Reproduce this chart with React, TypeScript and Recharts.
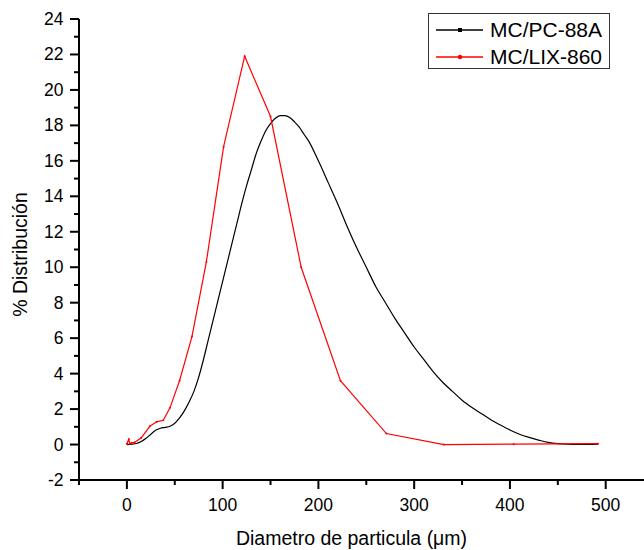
import { Line, LineChart, XAxis, YAxis, Label } from "recharts";

// MC/PC-88A (smooth curve)
const pcDiameter = [
  0, 5, 10, 15, 20, 25, 30, 35, 40, 45, 50, 55, 60, 65, 70, 75, 80, 85, 90, 95,
  100, 105, 110, 115, 120, 125, 130, 135, 140, 145, 150, 155, 160, 165, 170,
  175, 180, 185, 190, 200, 210, 220, 230, 240, 250, 260, 270, 280, 290, 300,
  310, 320, 330, 340, 350, 360, 370, 380, 390, 400, 410, 420, 430, 440, 450,
  460, 470, 480, 492,
];
const pcDistribution = [
  0, 0.02, 0.06, 0.17, 0.35, 0.58, 0.8, 0.92, 0.97, 1.03, 1.2, 1.5, 1.9, 2.4,
  3.0, 3.8, 4.8, 5.9, 7.0, 8.1, 9.2, 10.3, 11.4, 12.5, 13.6, 14.6, 15.5, 16.4,
  17.1, 17.7, 18.1, 18.4, 18.55, 18.55, 18.45, 18.2, 17.9, 17.5, 17.1, 16.0,
  14.8, 13.6, 12.3, 11.1, 10.0, 8.9, 8.0, 7.1, 6.3, 5.5, 4.8, 4.1, 3.5, 3.0,
  2.5, 2.1, 1.75, 1.4, 1.1, 0.82, 0.58, 0.4, 0.25, 0.12, 0.05, 0.02, 0.01,
  0.01, 0.02,
];

// MC/LIX-860 (polyline)
const lixDiameter = [
  0, 2, 3, 5, 8, 15, 24, 31, 38, 45, 55, 68, 83, 101, 123, 150, 182, 223, 271,
  331, 404, 492,
];
const lixDistribution = [
  0.05, 0.3, 0.05, 0.1, 0.12, 0.38, 1.03, 1.28, 1.37, 2.07, 3.6, 6.1, 10.3,
  16.8, 21.9, 18.5, 10.0, 3.6, 0.62, 0, 0.02, 0.05,
];

const xTicks = [-50, 0, 50, 100, 150, 200, 250, 300, 350, 400, 450, 500];
const yTicks = [
  -2, -1, 0, 1, 2, 3, 4, 5, 6, 7, 8, 9, 10, 11, 12, 13, 14, 15, 16, 17, 18,
  19, 20, 21, 22, 23, 24,
];

const pcData = pcDiameter.map((d, i) => ({ d, v: pcDistribution[i] }));
const lixData = lixDiameter.map((d, i) => ({ d, v: lixDistribution[i] }));

const FONT = "'Liberation Sans', Arial, sans-serif";

function XTick({ x, y, payload }: any) {
  const major = payload.value % 100 === 0;
  return (
    <g>
      <line x1={x} x2={x} y1={y} y2={y + (major ? 9 : 5)} stroke="#000" strokeWidth={2} />
      {major && (
        <text x={x} y={y + 31} textAnchor="middle" fontSize={17.5} fontFamily={FONT} fill="#000">
          {payload.value}
        </text>
      )}
    </g>
  );
}

function YTick({ x, y, payload }: any) {
  const major = payload.value % 2 === 0;
  return (
    <g>
      <line x1={x} x2={x - (major ? 9 : 5)} y1={y} y2={y} stroke="#000" strokeWidth={2} />
      {major && (
        <text x={x - 15.5} y={y + 6} textAnchor="end" fontSize={17.5} fontFamily={FONT} fill="#000">
          {payload.value}
        </text>
      )}
    </g>
  );
}

function ChartLegend() {
  const rows = [
    { name: "MC/PC-88A", color: "#000", square: true },
    { name: "MC/LIX-860", color: "#ff0000", square: false },
  ];
  return (
    <div
      style={{
        position: "absolute",
        left: 428,
        top: 13,
        width: 182,
        height: 56,
        boxSizing: "border-box",
        border: "1.5px solid #333",
        background: "#fff",
        fontFamily: FONT,
      }}
    >
      {rows.map((r, i) => (
        <div
          key={r.name}
          style={{ position: "absolute", left: 0, top: i === 0 ? 4 : 31, height: 24, width: 180 }}
        >
          <svg width={60} height={24} style={{ position: "absolute", left: 0, top: 0 }}>
            <line x1={7} x2={54} y1={12} y2={12} stroke={r.color} strokeWidth={1.3} />
            {r.square ? (
              <rect x={29} y={10} width={4} height={4} fill={r.color} />
            ) : (
              <circle cx={31} cy={12} r={2.2} fill={r.color} />
            )}
          </svg>
          <span
            style={{
              position: "absolute",
              left: 61,
              top: 0,
              lineHeight: "24px",
              fontSize: 21,
              color: "#000",
              whiteSpace: "nowrap",
            }}
          >
            {r.name}
          </span>
        </div>
      ))}
    </div>
  );
}

export default function App() {
  return (
    <div style={{ position: "absolute", left: 0, top: 0, width: 644, height: 550, background: "#fff" }}>
      <LineChart width={644} height={550} margin={{ top: 19, right: 0, bottom: 0, left: 0 }}>
        <XAxis
          type="number"
          dataKey="d"
          domain={[-50, 540]}
          ticks={xTicks}
          interval={0}
          allowDataOverflow
          height={70}
          tickSize={0}
          tickMargin={0}
          tickLine={false}
          tick={<XTick />}
          axisLine={{ stroke: "#000", strokeWidth: 2 }}
        >
          <Label
            content={({ viewBox }: any) => (
              <text
                x={viewBox.x + viewBox.width / 2 - 10}
                y={viewBox.y + 65}
                textAnchor="middle"
                fontSize={19.5}
                fontFamily={FONT}
                fill="#000"
              >
                Diametro de particula (μm)
              </text>
            )}
          />
        </XAxis>
        <YAxis
          type="number"
          domain={[-2, 24]}
          ticks={yTicks}
          interval={0}
          allowDataOverflow
          width={79}
          tickSize={0}
          tickMargin={0}
          tickLine={false}
          tick={<YTick />}
          axisLine={{ stroke: "#000", strokeWidth: 2 }}
        >
          <Label
            content={({ viewBox }: any) => {
              const cy = viewBox.y + viewBox.height / 2 + 5;
              return (
                <text
                  x={27}
                  y={cy}
                  transform={`rotate(-90, 27, ${cy})`}
                  textAnchor="middle"
                  fontSize={19.5}
                  fontFamily={FONT}
                  fill="#000"
                >
                  % Distribución
                </text>
              );
            }}
          />
        </YAxis>
        <Line
          data={pcData}
          dataKey="v"
          name="MC/PC-88A"
          type="monotone"
          stroke="#000"
          strokeWidth={1.2}
          dot={false}
          isAnimationActive={false}
        />
        <Line
          data={lixData}
          dataKey="v"
          name="MC/LIX-860"
          type="linear"
          stroke="#ff0000"
          strokeWidth={1.2}
          dot={{ r: 1, fill: "#ff0000", stroke: "none" }}
          isAnimationActive={false}
        />
      </LineChart>
      <ChartLegend />
    </div>
  );
}
